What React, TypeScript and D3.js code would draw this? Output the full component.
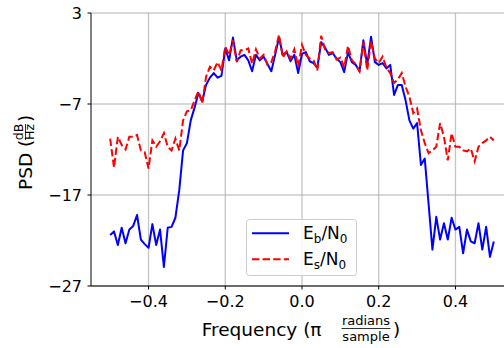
import React from "react";
import * as d3 from "d3";

const FREQ = [
  -0.5, -0.49, -0.48, -0.47, -0.46, -0.45, -0.44, -0.43, -0.42, -0.41,
  -0.4, -0.39, -0.38, -0.37, -0.36, -0.35, -0.34, -0.33, -0.32, -0.31,
  -0.3, -0.29, -0.28, -0.27, -0.26, -0.25, -0.24, -0.23, -0.22, -0.21,
  -0.2, -0.19, -0.18, -0.17, -0.16, -0.15, -0.14, -0.13, -0.12, -0.11,
  -0.1, -0.09, -0.08, -0.07, -0.06, -0.05, -0.04, -0.03, -0.02, -0.01,
  0.0, 0.01, 0.02, 0.03, 0.04, 0.05, 0.06, 0.07, 0.08, 0.09,
  0.1, 0.11, 0.12, 0.13, 0.14, 0.15, 0.16, 0.17, 0.18, 0.19,
  0.2, 0.21, 0.22, 0.23, 0.24, 0.25, 0.26, 0.27, 0.28, 0.29,
  0.3, 0.31, 0.32, 0.33, 0.34, 0.35, 0.36, 0.37, 0.38, 0.39,
  0.4, 0.41, 0.42, 0.43, 0.44, 0.45, 0.46, 0.47, 0.48, 0.49, 0.5,
];

const EB_N0 = [
  -21.4, -21.0, -22.5, -20.6, -22.3, -20.8, -20.4, -19.2, -21.9, -22.4,
  -22.8, -20.2, -22.5, -20.8, -24.9, -20.6, -20.5, -19.5, -16.5, -12.1,
  -11.3, -8.8, -7.4, -5.8, -6.7, -4.9, -4.1, -3.6, -4.1, -3.9,
  -0.9, -2.2, 0.3, -2.2, -1.8, -1.6, -2.2, -3.4, -1.6, -2.2,
  -1.8, -2.6, -3.4, -1.6, 0.3, -1.6, -1.3, -2.3, -1.6, -3.6,
  -1.5, -1.3, -2.3, -2.5, -3.0, -0.2, -0.8, -1.6, -1.4, -2.0,
  -2.4, -3.5, -1.3, -2.4, -2.7, -3.4, 0.0, -2.7, 0.4, -2.4,
  -2.7, -2.5, -3.1, -2.7, -6.0, -4.9, -4.9, -6.6, -8.8, -9.7,
  -9.1, -13.7, -13.0, -18.0, -23.0, -19.4, -21.9, -20.1, -21.9, -19.5,
  -20.8, -20.5, -23.4, -20.8, -22.1, -22.3, -20.1, -23.0, -20.5, -23.8, -22.1,
];

const ES_N0 = [
  -10.8, -14.0, -10.6, -11.5, -12.0, -10.6, -10.6, -10.4, -12.1, -12.3,
  -14.1, -11.0, -11.7, -11.1, -10.2, -11.7, -12.1, -10.8, -12.1, -8.8,
  -7.8, -7.7, -6.6, -5.6, -6.9, -4.0, -2.9, -3.3, -2.4, -3.3,
  -0.7, -1.6, 0.0, -2.4, -1.1, -1.1, -0.9, -2.6, -1.0, -2.0,
  -1.6, -2.7, -2.4, -1.2, 0.6, -1.9, -1.2, -2.0, -1.0, -2.9,
  -0.5, -1.6, -2.0, -2.2, -3.3, 0.5, -1.0, -1.4, -1.3, -2.1,
  -1.9, -3.0, -0.6, -2.2, -2.6, -3.4, -0.2, -3.3, -0.1, -2.0,
  -2.5, -1.8, -3.0, -3.6, -4.7, -4.3, -3.6, -5.1, -6.2, -8.0,
  -7.5, -9.9, -11.3, -12.4, -12.1, -11.7, -9.1, -10.6, -13.2, -10.2,
  -11.7, -11.7, -12.1, -12.2, -11.9, -13.3, -11.7, -11.3, -11.0, -10.6, -11.0,
];

const X_TICKS = [-0.4, -0.2, 0.0, 0.2, 0.4];
const X_TICK_LABELS = ["\u22120.4", "\u22120.2", "0.0", "0.2", "0.4"];
const Y_TICKS = [3, -7, -17, -27];
const Y_TICK_LABELS = ["3", "\u22127", "\u221217", "\u221227"];

const FONT = "'DejaVu Sans', sans-serif";

export default function App() {
  const W = 504;
  const H = 348;
  const left = 91;
  const right = 513;
  const top = 13;
  const bottom = 286;

  const x = d3.scaleLinear().domain([-0.55, 0.55]).range([left, right]);
  const y = d3.scaleLinear().domain([-27, 3]).range([bottom, top]);

  const line = d3
    .line<number>()
    .x((_, i) => x(FREQ[i]))
    .y((d) => y(d));

  const ebPath = line(EB_N0) || "";
  const esPath = line(ES_N0) || "";

  return (
    <div style={{ position: "fixed", left: 0, top: 0 }}>
      <svg width={W} height={H} style={{ display: "block", background: "#fff" }}>
        <defs>
          <clipPath id="plotclip">
            <rect x={left} y={top} width={right - left} height={bottom - top} />
          </clipPath>
        </defs>
        {/* grid */}
        {X_TICKS.map((t) => (
          <line key={"gx" + t} x1={x(t)} x2={x(t)} y1={top} y2={bottom} stroke="#c4c4c4" strokeWidth={1.3} />
        ))}
        {Y_TICKS.map((t) => (
          <line key={"gy" + t} x1={left} x2={right} y1={y(t)} y2={y(t)} stroke="#b0b0b0" strokeWidth={1} />
        ))}
        {/* data */}
        <g clipPath="url(#plotclip)">
          <path d={ebPath} fill="none" stroke="#0000ff" strokeWidth={2} strokeLinejoin="round" />
          <path d={esPath} fill="none" stroke="#ff0000" strokeWidth={2} strokeDasharray="7.4 3.2" />
        </g>
        {/* spines */}
        <line x1={left} x2={left} y1={top} y2={bottom} stroke="#000" strokeWidth={1} />
        <line x1={left} x2={right} y1={bottom} y2={bottom} stroke="#000" strokeWidth={1} />
        {/* ticks */}
        {X_TICKS.map((t, i) => (
          <g key={"xt" + t}>
            <line x1={x(t)} x2={x(t)} y1={bottom} y2={bottom + 3.5} stroke="#000" strokeWidth={1} />
            <text x={x(t)} y={307} textAnchor="middle" fontFamily={FONT} fontSize={16} fill="#000">
              {X_TICK_LABELS[i]}
            </text>
          </g>
        ))}
        {Y_TICKS.map((t, i) => (
          <g key={"yt" + t}>
            <line x1={left - 3.5} x2={left} y1={y(t)} y2={y(t)} stroke="#000" strokeWidth={1} />
            <text x={82} y={y(t) + 5.8} textAnchor="end" fontFamily={FONT} fontSize={16} fill="#000">
              {Y_TICK_LABELS[i]}
            </text>
          </g>
        ))}
        {/* x label */}
        <g fontFamily={FONT} fill="#000">
          <text x={201.7} y={335.7} fontSize={18.5}>Frequency (π</text>
          <text x={366} y={325} fontSize={13} textAnchor="middle">radians</text>
          <line x1={341.5} x2={390.5} y1={328.5} y2={328.5} stroke="#000" strokeWidth={0.8} />
          <text x={366} y={340.5} fontSize={13} textAnchor="middle">sample</text>
          <text x={393} y={335.7} fontSize={18.5}>)</text>
        </g>
        {/* y label */}
        <g transform="translate(32,150) rotate(-90)" fontFamily={FONT} fill="#000">
          <text x={-40} y={0} fontSize={18.5}>PSD (</text>
          <text x={18} y={-9} fontSize={12.5} textAnchor="middle">dB</text>
          <line x1={10} x2={26} y1={-6.5} y2={-6.5} stroke="#000" strokeWidth={0.8} />
          <text x={18} y={2} fontSize={12.5} textAnchor="middle">Hz</text>
          <text x={28} y={0} fontSize={18.5}>)</text>
        </g>
        {/* legend */}
        <g>
          <rect x={246.5} y={219.5} width={110} height={56} rx={3} fill="#fff" fillOpacity={0.8} stroke="#cccccc" strokeWidth={1} />
          <line x1={252} x2={289} y1={233.3} y2={233.3} stroke="#0000ff" strokeWidth={2} />
          <line x1={252} x2={289} y1={259.3} y2={259.3} stroke="#ff0000" strokeWidth={2} strokeDasharray="7.4 3.2" />
          <text x={303} y={239.3} fontFamily={FONT} fontSize={17} fill="#000">
            E<tspan fontSize={12} dy={3.5}>b</tspan>
            <tspan dy={-3.5}>/N</tspan>
            <tspan fontSize={12} dy={3.5}>0</tspan>
          </text>
          <text x={303} y={265} fontFamily={FONT} fontSize={17} fill="#000">
            E<tspan fontSize={12} dy={3.5}>s</tspan>
            <tspan dy={-3.5}>/N</tspan>
            <tspan fontSize={12} dy={3.5}>0</tspan>
          </text>
        </g>
      </svg>
    </div>
  );
}
